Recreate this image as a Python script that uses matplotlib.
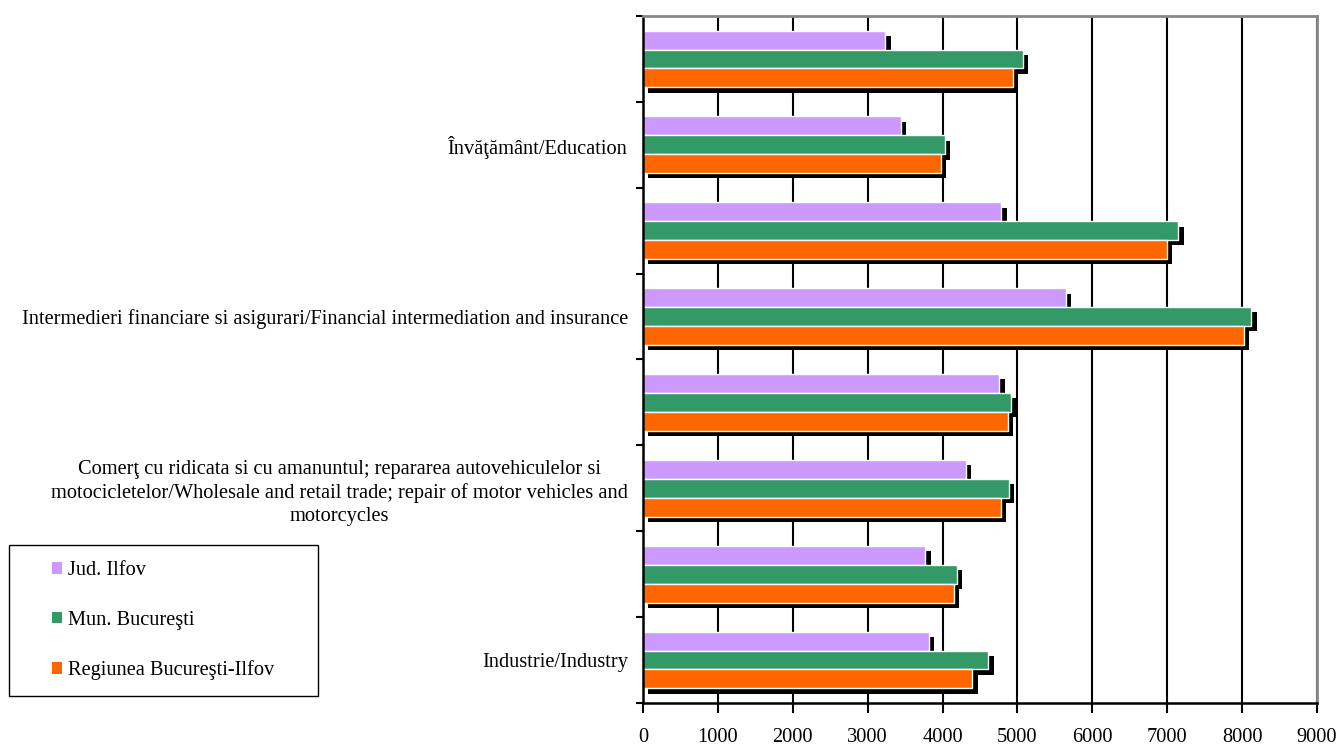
import matplotlib
matplotlib.use('Agg')
import numpy as np
import matplotlib.pyplot as plt
import matplotlib.patheffects as pe
from matplotlib.patches import Patch, Rectangle

plt.rcParams['font.family'] = ['Liberation Serif', 'DejaVu Serif']

# categories bottom -> top (only every other one is labelled in the original)
categories = [
    'Industrie/Industry',
    '',
    'Comerţ cu ridicata si cu amanuntul; repararea autovehiculelor si\n'
    'motocicletelor/Wholesale and retail trade; repair of motor vehicles and\n'
    'motorcycles',
    '',
    'Intermedieri financiare si asigurari/Financial intermediation and insurance',
    '',
    'Învăţământ/Education',
    '',
]
ilfov = [3820, 3770, 4310, 4760, 5650, 4785, 3445, 3236]
bucuresti = [4613, 4190, 4887, 4911, 8123, 7151, 4029, 5071]
regiunea = [4398, 4154, 4774, 4869, 8021, 6996, 3975, 4940]
series_names = ['Jud. Ilfov', 'Mun. Bucureşti', 'Regiunea Bucureşti-Ilfov']
colors = ['#CC99FF', '#339966', '#FF6600']

fig = plt.figure(figsize=(13.43, 7.45), dpi=100)
ax = fig.add_axes([0.4788, 0.0564, 0.5018, 0.9221])

y = np.arange(len(categories))
h = 0.22
shadow = [pe.SimplePatchShadow(offset=(3.8, -3.8), shadow_rgbFace='black', alpha=1.0),
          pe.Normal()]

for vals, off, col in zip([ilfov, bucuresti, regiunea], [h, 0, -h], colors):
    bars = ax.barh(y + off, vals, height=h, color=col, edgecolor='white',
                   linewidth=1.0, zorder=2)
    for b in bars:
        b.set_path_effects(shadow)

ax.set_xlim(0, 9000)
ax.set_ylim(-0.5, len(categories) - 0.5)
ax.set_xticks(np.arange(0, 9001, 1000))
ax.tick_params(axis='x', direction='out', length=7, width=1.5, pad=11, labelsize=14.7)
ax.xaxis.grid(True, color='black', linewidth=1.5)
ax.set_axisbelow(True)

ax.set_yticks(y)
ax.set_yticklabels(categories, multialignment='center', fontsize=14.7,
                   linespacing=1.3)
ax.tick_params(axis='y', which='major', length=0, pad=11)
ax.set_yticks(np.arange(-0.5, len(categories), 1.0), minor=True)
ax.tick_params(axis='y', which='minor', direction='out', length=5, width=1.5)

ax.spines['left'].set_linewidth(1.8)
ax.spines['bottom'].set_linewidth(1.8)
ax.spines['top'].set_color('#888888')
ax.spines['right'].set_color('#888888')
ax.spines['top'].set_linewidth(2)
ax.spines['right'].set_linewidth(2)

# legend box
fig.add_artist(Rectangle((9 / 1343, 49 / 745), 309 / 1343, 151 / 745,
                         transform=fig.transFigure, fill=False,
                         edgecolor='black', linewidth=1.0))
handles = [Patch(facecolor=c, edgecolor='none') for c in colors]
fig.legend(handles, series_names, loc='upper left',
           bbox_to_anchor=(52 / 1343, 1 - 561 / 745), frameon=False,
           fontsize=14.7, handlelength=0.5, handleheight=0.5,
           handletextpad=0.3, labelspacing=1.5, borderaxespad=0, borderpad=0)

fig.savefig('out.png', dpi=100)
